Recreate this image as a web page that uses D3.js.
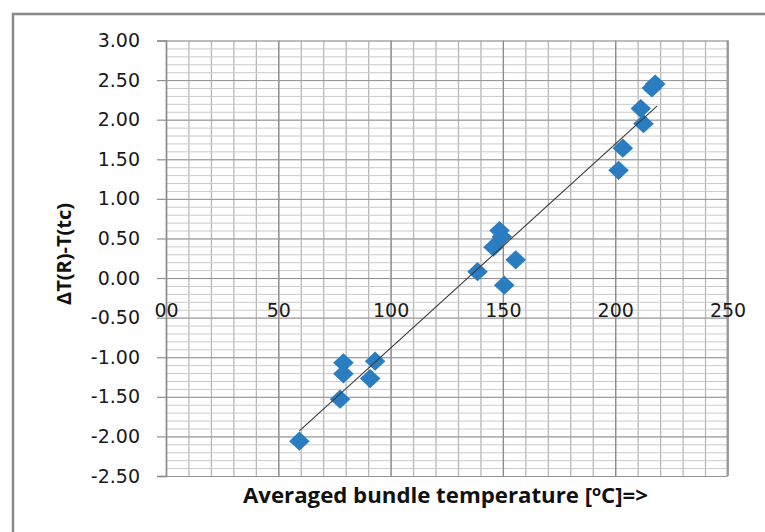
<!DOCTYPE html>
<html><head><meta charset="utf-8">
<script src="https://cdn.jsdelivr.net/npm/d3@7"></script>
<style>body{margin:0;background:#fff} svg{display:block}</style>
</head><body><svg id="c" width="765" height="532"></svg>
<script>
// ---- data ----
const xValues = [59.4, 77.5, 79.0, 79.0, 90.9, 93.1, 138.7, 145.8, 148.5, 149.5, 155.7, 150.6, 201.5, 203.4, 211.4, 212.6, 216.3, 217.8];
const yValues = [-2.06, -1.53, -1.21, -1.07, -1.27, -1.05, 0.08, 0.39, 0.60, 0.52, 0.23, -0.09, 1.36, 1.64, 2.14, 1.95, 2.40, 2.45];
const xTicks = [0, 50, 100, 150, 200, 250];
const xTickLabels = ["00", "50", "100", "150", "200", "250"];
const yTicks = [3, 2.5, 2, 1.5, 1, 0.5, 0, -0.5, -1, -1.5, -2, -2.5];
const xMinorTicks = d3.range(0, 251, 10);
const yMinorTicks = d3.range(-25, 31).map(d => d / 10);
const xTitleParts = ["Averaged bundle temperature [", "o", "C]=>"];
const yTitle = "ΔT(R)-T(tc)";

const svg = d3.select("#c");
svg.append("rect").attr("width", 765).attr("height", 532).attr("fill", "#fff");
// outer chart border (only top/left visible)
svg.append("rect").attr("x", 13).attr("y", 14).attr("width", 820).attr("height", 620)
  .attr("fill", "none").attr("stroke", "#8a8a8a").attr("stroke-width", 2.5);

const x = d3.scaleLinear().domain([0, 250]).range([166, 727.5]);
const y = d3.scaleLinear().domain([-2.5, 3]).range([476, 40.5]);
const pTop = y(3), pBot = y(-2.5), pLeft = x(0), pRight = x(250);

// minor grid
svg.append("g").attr("transform", `translate(0,${pBot})`)
  .call(d3.axisBottom(x).tickValues(xMinorTicks).tickSize(-(pBot - pTop)).tickFormat(""))
  .call(g => g.select(".domain").remove())
  .call(g => g.selectAll("line").attr("stroke", "#b8b8b8").attr("stroke-width", 1.3));
svg.append("g").attr("transform", `translate(${pLeft},0)`)
  .call(d3.axisLeft(y).tickValues(yMinorTicks).tickSize(-(pRight - pLeft)).tickFormat(""))
  .call(g => g.select(".domain").remove())
  .call(g => g.selectAll("line").attr("stroke", "#cacaca").attr("stroke-width", 1));
// major grid
svg.append("g").attr("transform", `translate(0,${pBot})`)
  .call(d3.axisBottom(x).tickValues(xTicks).tickSize(-(pBot - pTop)).tickFormat(""))
  .call(g => g.select(".domain").remove())
  .call(g => g.selectAll("line").attr("stroke", "#8a8a8a").attr("stroke-width", 1.2));
svg.append("g").attr("transform", `translate(${pLeft},0)`)
  .call(d3.axisLeft(y).tickValues(yTicks).tickSize(-(pRight - pLeft)).tickFormat(""))
  .call(g => g.select(".domain").remove())
  .call(g => g.selectAll("line").attr("stroke", "#959595").attr("stroke-width", 1));

// right border of plot
svg.append("line").attr("x1", pRight).attr("x2", pRight).attr("y1", pTop).attr("y2", pBot)
  .attr("stroke", "#9a9a9a").attr("stroke-width", 2);

// y axis
svg.append("g").attr("transform", `translate(${pLeft},0)`)
  .call(d3.axisLeft(y).tickValues(yTicks).tickSize(9).tickPadding(17).tickFormat(d => d.toFixed(2)))
  .call(g => g.select(".domain").attr("stroke", "#8f8f8f").attr("stroke-width", 1.5))
  .call(g => g.selectAll(".tick line").attr("stroke", "#8f8f8f").attr("stroke-width", 1.2))
  .call(g => g.selectAll("text").attr("font-family", "DejaVu Sans").attr("font-size", 19).attr("fill", "#1a1a1a"));

// x axis at y=0
svg.append("g").attr("transform", `translate(0,${y(0)})`)
  .call(d3.axisBottom(x).tickValues(xTicks).tickSize(0).tickPadding(25).tickFormat((d, i) => xTickLabels[i]))
  .call(g => g.select(".domain").attr("stroke", "#8f8f8f").attr("stroke-width", 1))
  .call(g => g.selectAll("text").attr("font-family", "DejaVu Sans").attr("font-size", 19).attr("fill", "#1a1a1a"));

// trendline (least squares through the points)
const n = xValues.length;
const mx = d3.mean(xValues), my = d3.mean(yValues);
let sxy = 0, sxx = 0;
for (let i = 0; i < n; i++) { sxy += (xValues[i] - mx) * (yValues[i] - my); sxx += (xValues[i] - mx) ** 2; }
const slope = sxy / sxx, icpt = my - slope * mx;
const x0 = d3.min(xValues), x1 = d3.max(xValues) + 0.8;

// diamond markers
const diamond = { draw(ctx, size) { const w = 10.3, h = 9.6; ctx.moveTo(0, -h); ctx.lineTo(w, 0); ctx.lineTo(0, h); ctx.lineTo(-w, 0); ctx.closePath(); } };
svg.append("g").selectAll("path").data(xValues).join("path")
  .attr("transform", (d, i) => `translate(${x(d)},${y(yValues[i])})`)
  .attr("d", d3.symbol().type(diamond)())
  .attr("fill", "#2a7dc1");

svg.append("line")
  .attr("x1", x(x0)).attr("y1", y(icpt + slope * x0))
  .attr("x2", x(x1)).attr("y2", y(icpt + slope * x1))
  .attr("stroke", "#3a3a3a").attr("stroke-width", 1.1);

// titles
const xt = svg.append("text").attr("x", 445.5).attr("y", 503).attr("text-anchor", "middle")
  .attr("font-family", "Open Sans").attr("font-weight", "bold").attr("font-size", 20.5).attr("fill", "#111")
  .attr("textLength", 405).attr("lengthAdjust", "spacingAndGlyphs");
xt.append("tspan").text(xTitleParts[0]);
xt.append("tspan").attr("font-size", 13.5).attr("dy", -7.5).text(xTitleParts[1]);
xt.append("tspan").attr("dy", 7.5).text(xTitleParts[2]);

svg.append("text").attr("transform", "translate(71,254) rotate(-90)").attr("text-anchor", "middle")
  .attr("font-family", "Open Sans").attr("font-weight", "bold").attr("font-size", 20).attr("fill", "#111")
  .attr("textLength", 102).attr("lengthAdjust", "spacingAndGlyphs")
  .text(yTitle);
</script></body></html>
